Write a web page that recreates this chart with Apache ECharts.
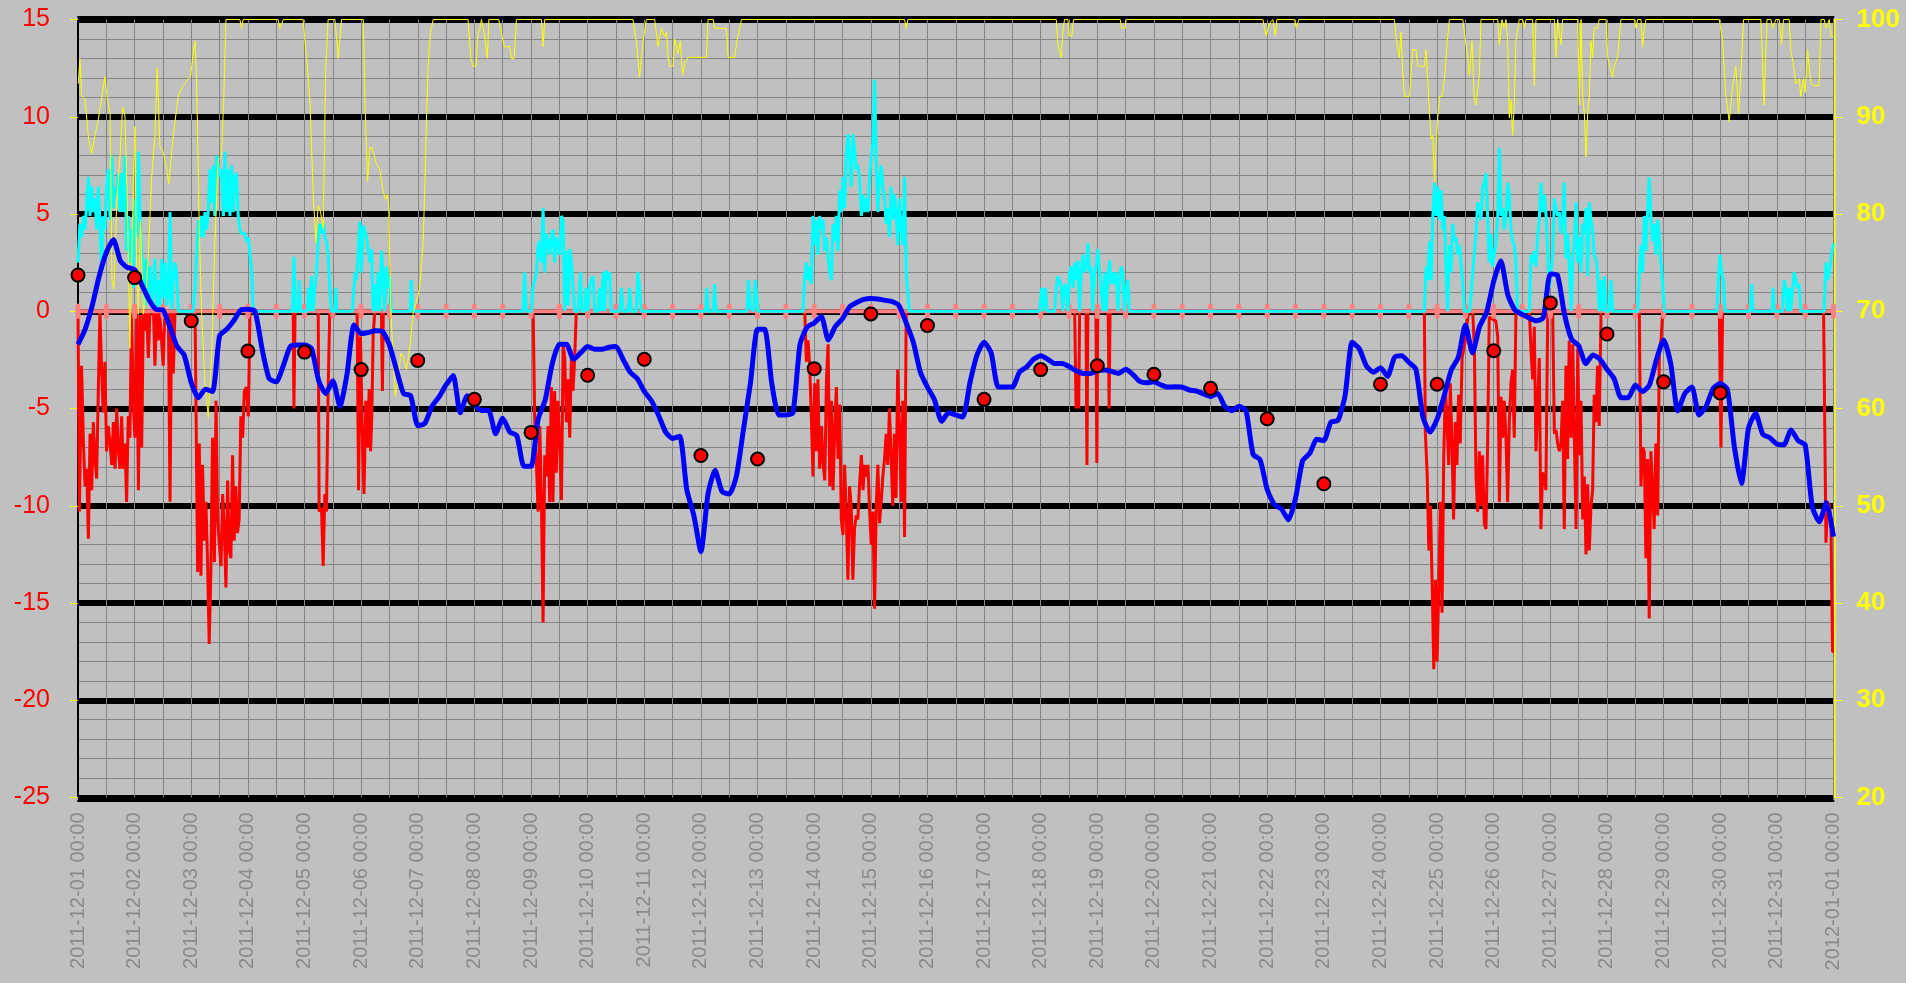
<!DOCTYPE html>
<html>
<head>
<meta charset="utf-8">
<script src="https://cdn.jsdelivr.net/npm/echarts@6/dist/echarts.min.js"></script>
<style>
  html, body { margin: 0; padding: 0; background: #ffffff; }
  #chart { width: 1906px; height: 983px; background: #c0c0c0; }
</style>
</head>
<body>
<div id="chart"></div>
<script>
// hours since 2011-12-01 00:00, one month
const hourMin = 0
const hourMax = 744

// thick blue line, one reading every 3 hours
const blueStep = 3
const blueVals = [
  -1.7,-0.93,0.28,1.82,3.02,3.68,2.58,2.25,2.14,1.38,0.61,0.1,0.06,-0.82,-1.81,-2.25,
  -3.68,-4.45,-4.01,-4.12,-1.26,-0.93,-0.49,0.06,0.1,0.0,-1.92,-3.46,-3.63,-2.8,-1.81,-1.74,
  -1.74,-1.92,-3.57,-4.23,-3.57,-4.89,-3.24,-0.71,-1.15,-1.09,-1.0,-1.04,-1.74,-3.02,-4.23,-4.34,
  -5.88,-5.77,-4.89,-4.4,-3.79,-3.3,-5.22,-4.34,-4.8,-5.1,-5.1,-6.3,-5.5,-6.2,-6.4,-7.97,
  -7.97,-5.55,-4.56,-2.69,-1.7,-1.7,-2.47,-2.14,-1.81,-1.96,-1.96,-1.85,-1.81,-2.47,-3.13,-3.46,
  -4.12,-4.6,-5.33,-6.2,-6.54,-6.43,-9.17,-10.5,-12.36,-9.39,-8.18,-9.28,-9.39,-8.5,-6.1,-3.68,
  -0.93,-0.93,-3.68,-5.33,-5.33,-5.22,-1.7,-0.82,-0.6,-0.27,-1.48,-0.78,-0.38,0.23,0.45,0.61,
  0.65,0.63,0.56,0.5,0.28,-0.6,-1.59,-3.13,-3.9,-4.56,-5.66,-5.22,-5.33,-5.44,-3.68,-2.25,
  -1.59,-2.14,-3.9,-3.9,-3.9,-3.13,-2.87,-2.47,-2.29,-2.47,-2.69,-2.69,-2.84,-3.06,-3.2,-3.2,
  -3.06,-3.02,-3.09,-3.2,-2.98,-3.24,-3.61,-3.68,-3.63,-3.79,-3.9,-3.88,-3.9,-4.05,-4.1,-4.25,
  -4.38,-4.23,-4.89,-5.11,-4.89,-5.11,-7.35,-7.64,-9.17,-9.94,-10.16,-10.72,-9.62,-7.68,-7.31,-6.58,
  -6.65,-5.7,-5.61,-4.34,-1.59,-1.92,-2.8,-3.13,-2.91,-3.35,-2.36,-2.29,-2.62,-2.98,-5.44,-6.21,
  -5.55,-4.34,-3.02,-2.36,-0.71,-2.14,-0.78,-0.05,1.55,2.58,0.83,0.06,-0.16,-0.34,-0.49,-0.34,
  1.92,1.86,-0.16,-1.44,-1.77,-2.69,-2.25,-2.47,-2.98,-3.46,-4.45,-4.45,-3.79,-4.12,-3.79,-2.47,
  -1.48,-2.69,-5.11,-4.23,-3.9,-5.33,-4.89,-3.97,-3.72,-4.0,-6.98,-8.85,-5.99,-5.26,-6.32,-6.5,
  -6.83,-6.87,-6.1,-6.65,-6.87,-10.05,-10.82,-9.83,-11.59
]

// red dots, one per day at 00:00
const dailyVals = [
  1.86,1.73,-0.49,-2.05,-2.1,-3.0,-2.53,-4.53,-6.23,-3.29,-2.47,-7.42,-7.6,-2.95,-0.14,
  -0.73,-4.53,-3.0,-2.8,-3.24,-3.96,-5.53,-8.87,-3.75,-3.75,-2.03,0.43,-1.17,-3.63,-4.2
]

// pink reference line at zero, one mark every 12 hours
const zeroStep = 12
const zeroVals = [
  0,0,0,0,0,0,0,0,0,0,0,0,0,0,0,0,0,0,0,0,0,0,0,0,0,0,0,0,0,0,0,0,
  0,0,0,0,0,0,0,0,0,0,0,0,0,0,0,0,0,0,0,0,0,0,0,0,0,0,0,0,0,0,0
]

// red series [hour, value]
const redPts = [
  [0,0],[0.6,-10.3],[1.5,-2.8],[2.3,-6.8],[3,-9],[3.7,-8.1],[4.4,-11.7],[5.1,-6.3],[5.8,-9.2],[6.5,-5.7],
  [7.2,-7.6],[7.9,-8.6],[8.6,-4.1],[9.3,0],[10,-3],[10.7,-5.2],[11.4,-2.6],[12.1,-7.2],[12.8,-5.9],[13.6,-6.8],
  [14.3,-7.9],[15,-5.7],[15.7,-8.1],[16.4,-5],[17.1,-7.1],[17.8,-8.1],[18.5,-5.4],[19.2,-8.1],[19.9,-6.8],[20.6,-9.8],
  [21.3,-5.4],[22,-6.5],[22.7,0],[23.4,-4.6],[24.1,-6.5],[24.9,0],[25.6,-9.2],[26.3,-0.2],[27,-7],[27.7,0],
  [28.4,-1],[29.1,0],[29.8,-2.4],[30.5,0],[32,0],[32.6,-2.8],[33.3,0],[34,-1.5],[34.6,0],[35.4,0],
  [36.1,-2.8],[36.8,0],[38.3,0],[39,-9.8],[39.7,0],[40.4,-3.2],[41.1,0],
  [49.6,0],[50,-4.8],[50.7,-13.4],[51.4,-6.8],[52.1,-13.6],[52.8,-7.9],[53.5,-11.8],[54.2,-9.8],[54.9,-12.9],[55.6,-17.1],
  [56.3,-13.4],[57,-6.5],[57.8,-12.9],[58.5,-4.6],[59.2,-10.7],[59.9,-12],[60.6,-13.1],[61.3,-9.4],[62,-11.2],[62.7,-14.2],
  [63.4,-8.7],[64.1,-12.3],[64.8,-12.7],[65.5,-7.4],[66.2,-11.8],[66.9,-9],[67.6,-11.4],[68.3,-10.7],[69,-5.4],[69.8,-6.5],
  [70.5,-4.1],[71.4,-3.9],[72.2,-5.4],[72.9,0],
  [91.2,0],[91.5,-5],[92,0],[101.8,0],[102.2,-10.3],[103.2,-10.1],[103.9,-13.1],[104.6,-9.4],[105.3,-10.3],[106,-4.1],[106.7,0],
  [118.3,0],[118.9,-9.2],[119.7,-1.3],[120.6,-6.8],[121.2,-9.4],[122,-4.6],[122.7,-7],[123.4,-4],[124,-7.2],[124.5,-5.5],
  [125.1,-1.2],[125.8,0],[128.6,0],[129,-4.1],[129.4,0],
  [192.9,0],[193.6,-5.9],[194.3,-7.9],[195,-10.3],[195.7,-5.9],[196.4,-9.7],[197.1,-16],[197.8,-7.4],[198.5,-8.5],[199.2,-5.9],
  [199.9,-9.8],[200.6,-3.9],[201.3,-9.8],[202,-4.1],[202.7,-8.3],[203.4,-4.6],[204.2,-6.8],[204.9,-9.7],[205.6,-1.7],[206.3,-2.4],
  [207,-5.7],[207.7,-3.5],[208.4,-6.5],[209.1,-2.4],[209.8,-4.1],[210.5,-2.4],[211.2,0],
  [308,0],[308.7,-2.6],[309.4,-1.5],[310.1,-2.8],[310.8,-5.4],[311.5,-8.5],[312.2,-3.7],[312.9,-7.2],[313.6,-3.5],[314.3,-8.1],
  [315.1,-5.9],[315.8,-7.9],[316.5,-8.7],[317.2,-3.5],[317.9,-1.7],[318.6,-9],[319.3,-4.6],[320,-9.2],[320.7,-6.1],[321.4,-3.9],
  [322.1,-7.6],[322.8,-4.8],[323.5,-10.7],[324.2,-11.5],[324.9,-7.9],[325.6,-10.5],[326.3,-13.8],[327,-9],[327.7,-10],[328.4,-13.8],
  [329.1,-11.2],[329.8,-10.5],[330.5,-10.7],[331.2,-9],[332,-7.4],[332.7,-9.2],[333.4,-7.9],[334.1,-8.5],[334.8,-7.9],[335.5,-10.3],
  [336.2,-12],[336.9,-10.3],[337.6,-15.3],[338.3,-10],[339,-7.9],[339.7,-10.9],[340.4,-9.8],[341.1,-8.5],[341.8,-7.6],[342.5,-6.3],
  [343.2,-7.9],[343.9,-5],[344.6,-7.4],[345.3,-10],[346,-6.3],[346.7,-9.6],[347.4,-3],[348.1,-5.7],[348.9,-9.8],[349.6,-4.6],
  [350.3,-11.6],[351,0],
  [422.4,0],[423,-5],[423.5,-3.3],[424.1,-5],[424.5,0],[427.2,0],[427.6,-7.9],[428,0],[431.4,0],[431.8,-7.8],[432.2,0],
  [436.6,0],[437,-5],[437.4,0],
  [570.6,0],[571,-6.2],[571.8,-8.4],[572.5,-12.3],[573.2,-10],[573.9,-14],[574.6,-18.4],[575.3,-13.8],[576,-18],[576.7,-14.2],
  [577.4,-9.8],[578.1,-15.5],[578.8,-7.6],[579.5,-3.9],[580.2,-5.7],[580.9,-7.9],[581.6,-3.7],[582.3,-6.8],[583,-10.7],[583.7,-5.7],
  [584.4,-7.9],[585.1,-4.3],[585.8,-6.8],[586.6,-2.4],[587.3,-1.9],[588,-1.5],[588.7,-0.6],[589.4,0],[591.1,0],[591.8,-1.9],
  [592.5,-8.5],[593.2,-10.3],[593.9,-7.2],[594.6,-10],[595.3,-7.4],[596,-10.9],[596.7,-11.2],[597.4,-7],[598.1,-0.3],[600.9,-0.5],
  [601.7,-1.3],[602.4,-9.8],[603.1,-4.4],[603.8,-6.5],[604.5,-4.6],[605.2,-6.5],[605.9,-9.8],[606.6,-5.7],[607.3,-3.7],[608,-3],
  [608.7,-6.5],[609.4,-0.2],[610.1,0],[615.1,0],[615.8,-2],[616.5,-3.5],[617.2,-0.8],[617.9,-7.2],[618.6,-7.2],[619.3,-2.4],
  [620,-11.2],[620.7,-8.3],[621.4,-8.5],[622.1,-9.2],[622.9,0],[623.6,-0.2],[624.3,0],[625,-0.2],[625.7,-6.3],[626.4,-6.1],
  [627.1,-6.8],[627.8,-7.2],[628.5,-6.8],[629.2,-4.6],[629.9,-11.2],[630.6,-2.8],[631.3,-7.6],[632,-1.5],[632.8,-6.5],[633.5,-1.7],
  [634.2,-6.8],[634.9,-11.2],[635.6,-1.9],[636.3,-7.4],[637,-4.6],[637.7,-10.7],[638.4,-8.5],[639.1,-12.5],[639.8,-8.9],[640.5,-12.3],
  [641.2,-10.1],[641.9,-9.2],[642.6,-4.3],[643.3,-5.7],[644,-2.8],[644.7,-5.9],[645.5,0],
  [661.7,0],[662.4,-9],[663.1,-7],[663.8,-7.2],[664.5,-12.7],[665.2,-7.6],[665.9,-15.8],[666.6,-7.2],[667.3,-9],[668,-11.2],
  [668.7,-6.8],[669.5,-10.5],[670.2,-1.9],[670.9,-1.5],[671.6,0],
  [695.6,0],[696.3,-7],[697,0],
  [739.8,0],[740.8,-11.9],[741.5,-9.8],[742.2,-10],[742.9,-10.7],[743.6,-17.5],[744,-17.5]
]

// cyan series [hour, value]
const cyanPts = [
  [0,2.5],[0.8,4.5],[1.6,3.8],[2.3,4.9],[3,4.2],[3.7,5.6],[4.4,6.9],[5.1,4.9],[5.8,6.4],[6.5,5.1],
  [7.2,5.8],[7.9,4.2],[8.6,6.4],[9.3,4.7],[10,2],[10.7,4.9],[11.4,4.2],[12.1,6.4],[12.8,7.3],[13.6,4.7],
  [14.3,8],[15,5.3],[15.7,6.4],[16.4,6],[17.1,7.1],[17.8,5.1],[18.5,7.1],[19.2,5.1],[19.9,8],[20.6,3.1],
  [21.3,4.9],[22,2.5],[22.7,4.2],[23.4,1.2],[24.1,5.8],[24.8,3.8],[25.6,8.2],[26.3,4.9],[27,2.9],[27.7,2.5],
  [28.4,0.3],[29.1,2.7],[29.8,0.9],[30.5,2.3],[31.2,0.3],[31.9,1.2],[32.6,2.7],[33.3,0.1],[34,1.6],[34.7,0.3],
  [35.4,2.7],[36.1,0.7],[36.9,2.5],[37.6,0.3],[38.3,0.7],[39,5.1],[39.7,0.1],[40.4,1.6],[41.1,2.5],[41.8,2],[42.5,0],
  [48.8,0],[49.6,1.2],[50.3,2.9],[51,4.7],[51.7,3.8],[52.4,4.9],[53.1,3.8],[53.8,5.1],[54.5,4.2],[55.2,5.1],
  [55.9,7.3],[56.6,5.6],[57.3,7.5],[58,4.9],[58.7,8],[59.4,7.5],[60.1,6.9],[60.8,7.3],[61.6,4.9],[62.3,8.2],
  [63,5.1],[63.7,7.3],[64.4,4.9],[65.1,7.5],[65.8,5.1],[66.5,6.9],[67.2,7.1],[67.9,4.9],[68.6,4.2],[69.3,4],
  [70,4.1],[70.7,4],[71.4,3.6],[72.2,3.8],[72.9,2.9],[73.6,2],[74.3,0],
  [90.9,0],[91.5,2.8],[92.1,0],[93.3,0],[93.7,1.6],[94.3,0],[97.1,0],[97.7,1.2],[98.3,0],[99,1.8],
  [99.7,0],[100.4,1.2],[101.1,2],[101.8,3.6],[102.5,4.5],[103.2,4],[103.9,4.5],[104.6,3.8],[105.3,3.6],[106,2.9],
  [106.7,1.2],[107.4,0],[108.9,0],[109.3,1.2],[109.7,0],
  [116.3,0],[116.9,1.1],[117.5,2],[118,1.6],[118.7,2.9],[119.4,4.6],[120.1,2],[120.9,4.4],[122.3,3.8],[123,3.1],
  [123.7,2.5],[124.4,3.2],[125.1,0],[125.8,1.4],[126.5,0],[127.2,2],[127.9,0],[128.6,3.1],[129.3,2],[130,0],
  [130.7,2.3],[131.4,1.2],[132.1,1.8],[132.8,0],[140.8,0],[141.2,1.6],[141.8,0],
  [188.6,0],[189.3,2],[190,0],[192.1,0],[192.8,1.2],[193.6,1.2],[194.3,2],[195,3.4],[195.7,3.6],[196.4,2.5],
  [197.1,5.3],[197.8,2],[198.5,4],[199.2,3.6],[199.9,2.9],[200.6,3.8],[201.3,4.2],[202,2.5],[202.7,3.8],[203.4,3.4],
  [204.2,2.9],[204.9,4.9],[205.6,4.7],[206.3,0],[207,3.1],[207.7,0.3],[208.4,3.2],[209.1,2.5],[209.8,2.5],[210.5,0],
  [211.9,0],[213,2],[213.6,0],[214.7,0],[215.4,1.2],[216.1,0],[216.8,1.2],[217.5,1.6],[218.3,1.8],[219,0],
  [220.4,0],[221.1,1.2],[221.8,0],[222.5,2],[223.2,0],[223.9,2.1],[224.6,1.6],[225.3,2],[226,0],[229.6,0],
  [230.3,1.2],[231,0],[233.1,0],[233.8,1.2],[234.5,0],[236.6,0],[237.3,2],[238,1.2],[238.7,0],
  [265.9,0],[266.5,1.2],[267,0],[269.2,0],[269.8,1.4],[270.3,0],[283.6,0],[284.1,1.6],[285,0.2],[286.4,0],
  [287,1.6],[287.5,1.6],[288.2,0],
  [307.3,0],[308,1.8],[308.7,2.5],[309.4,1.6],[310.1,2.3],[310.8,1.4],[311.5,4.9],[312.2,3.4],[312.9,4.7],[313.6,2.9],
  [314.3,4.9],[315.1,4.2],[315.8,4.7],[316.5,3.1],[317.2,3.8],[317.9,2.7],[318.6,2],[319.3,1.6],[320,4.5],[320.7,3.6],
  [321.4,4.9],[322.1,3.1],[322.8,6.2],[323.5,5.1],[324.2,6.9],[324.9,5.3],[325.6,8],[326.3,9.1],[327,8],[327.7,6.4],
  [328.4,9.1],[329.1,8.4],[329.8,7.3],[330.5,7.5],[331.2,6.9],[332,4.9],[332.7,6],[333.4,5.1],[334.1,5.8],[334.8,5.1],
  [335.5,6.9],[336.2,8],[336.9,8.6],[337.6,11.9],[338.3,7.8],[339,5.1],[339.7,6.9],[340.4,7.5],[341.1,6.4],[341.8,5.8],
  [342.5,4.5],[343.2,5.3],[343.9,3.8],[344.6,6.4],[345.3,4.7],[346,6],[346.7,5.1],[347.4,3.4],[348.1,5.8],[348.9,4.2],
  [349.6,3.4],[350.3,6.9],[351,2],[351.7,0.9],[352.4,0],
  [407.5,0],[408.5,1.2],[409.1,0],[409.9,1.2],[410.8,0],[413.9,0],[414.6,1.2],[415.3,1.8],[416,1.6],[416.7,1.2],
  [417.4,0],[418.1,1.4],[418.8,1.2],[419.5,0],[420.2,2],[420.9,2.3],[421.7,1.2],[422.4,2.5],[423.1,1.6],[423.8,2.6],
  [424.5,0],[425.2,2],[425.9,2.9],[426.6,2],[427.3,2.3],[428,3.5],[428.7,2],[429.4,2.3],[430.1,0],[430.8,2],
  [431.5,2.3],[432.2,3.2],[432.9,2],[433.6,1.2],[434.4,0],[435.1,2],[435.8,0],[436.5,1.8],[437.2,2.6],[437.9,1.4],
  [438.6,2],[439.3,1.4],[440,2],[440.7,0],[441.4,1.6],[442.1,2.3],[442.8,2],[443.5,0],[444.2,1.2],[444.9,1.6],[445.6,0],
  [570.6,0],[571.3,2.3],[572,1.6],[572.8,3.6],[573.5,1.6],[574.2,4.9],[574.9,6.6],[575.6,4.9],[576.3,6.4],[577,4.7],
  [577.7,6.2],[578.4,4.2],[579.1,4.9],[579.8,2],[580.5,0],[581.2,3.4],[581.9,2],[582.6,4.5],[583.3,3.6],[584,3.8],
  [584.8,2.9],[585.5,3.4],[586.2,2.3],[586.9,1.4],[587.6,0],[589.7,0],[590.4,0.9],[591.1,2],[591.8,2],[592.5,4],
  [593.2,5.6],[593.9,5.3],[594.6,4.7],[595.3,6.4],[596,6.6],[596.7,7.1],[597.4,4.9],[598.1,2.5],[598.8,4],[599.5,2.3],
  [600.2,2.9],[600.9,3.4],[601.7,4.9],[602.4,8.4],[603.1,4.9],[603.8,5.3],[604.5,4.2],[605.2,4.9],[605.9,6.6],[606.6,6],
  [607.3,4.2],[608,3.6],[608.7,3.4],[609.4,2.5],[610.1,0],[615.1,0],[615.8,2.9],[616.5,2.5],[617.2,3.1],[617.9,2.3],
  [618.6,3.8],[619.3,4.7],[620,6.6],[620.7,5.1],[621.4,6],[622.2,4.9],[622.9,2.9],[623.6,1.2],[624.3,2],[625,2.9],
  [625.7,5.8],[626.4,5.3],[627.1,4.9],[627.8,5.1],[628.5,4],[629.2,4.7],[629.9,6.6],[630.6,2.7],[631.3,4],[632,2.5],
  [632.8,0],[633.5,2.7],[634.2,3.6],[634.9,5.6],[635.6,2.5],[636.3,3.8],[637,2],[637.7,4.5],[638.4,4],[639.1,5.3],
  [639.8,1.8],[640.5,5.6],[641.2,4.7],[641.9,4.2],[642.6,2.9],[643.3,2.7],[644,2],[644.7,0],[645.5,1.6],[646.2,0],
  [646.9,1.8],[647.6,0],[649,0],[649.7,1.6],[650.4,0],
  [661,0],[661.7,2],[662.4,3.4],[663.1,2],[663.8,4.9],[664.5,3.1],[665.2,5.1],[665.9,6.9],[666.6,4.9],[667.3,3.6],
  [668,4.5],[668.7,2.9],[669.5,4.7],[670.2,3.8],[670.9,2.5],[671.6,1.4],[672.3,0],
  [694.6,0],[695.2,1.6],[695.9,2.9],[696.6,2],[697.3,1.6],[698,0],[708.7,0],[709.3,1.4],[709.8,0],[718,0],
  [718.4,1.2],[718.9,0],[722.4,0],[723.1,1.6],[723.8,1.2],[724.5,0],[725.2,1.2],[725.9,0],[727.3,2],[728,1.6],
  [728.7,1.2],[729.4,1.4],[730.1,0],[740,0],[740.8,2.5],[741.5,1.6],[742.2,2],[742.9,2.7],[744,3.5]
]

// yellow series on the right axis [hour, value]
const yellowPts = [
  [0.1,93.4],[0.8,96],[1.6,92.1],[3,91.8],[4.4,87.9],[5.8,86.2],[7.2,88.1],[8.6,89.7],[10,91.9],[11.4,94.1],
  [12.4,91.9],[13.6,90.3],[14.4,73.2],[15.2,72.3],[16.4,81.1],[17.8,85.9],[18.9,91],[19.9,90.1],[20.9,81.5],[22,66.2],
  [23.2,80.2],[24.1,89],[24.8,75],[25.6,69.7],[26.5,79.3],[27.7,69.7],[29.1,72.8],[30.2,78],[31.2,83.7],[32.6,88.1],
  [33.6,95],[34.7,86.9],[36.1,86.4],[37.6,84.6],[38.5,83.1],[39.7,86.4],[41.1,89.5],[42.5,92.1],[43.9,93],[45.3,93.4],
  [46.7,93.9],[47.7,94.1],[48.8,96.5],[49.6,97.8],[50.3,93.4],[51.4,78.5],[52.4,69.7],[53.8,62.6],[55.2,59.1],[56.6,65.3],
  [58,77.1],[59.4,85.5],[60.8,85.9],[61.8,92.1],[62.7,100],[68.6,100],[69.3,99.1],[70,100],[84.8,100],[85.6,99.1],
  [87,100],[95.4,100],[96.9,96],[98.3,91.7],[99.7,82],[100.8,77.1],[101.8,80.9],[102.8,80.2],[103.9,78.5],[105,95.2],
  [106,100],[108.9,100],[110.3,96],[111.7,100],[120.9,100],[121.6,91.7],[122.7,83.3],[123.7,86.8],[124.7,86.8],[125.5,86.8],
  [126.5,85.1],[127.9,84.6],[129.3,82.4],[130.3,81.5],[131.2,82],[131.7,80.7],[132.6,69.7],[133.6,65.3],[134.5,61.3],[135.7,63.1],
  [136.8,65.7],[137.8,65.3],[139.2,64],[140.6,66.2],[142,69.7],[143.4,71],[144.8,72.3],[146.3,77.2],[147,82.9],[147.7,89.9],
  [148.4,95.2],[149.4,98.7],[150.5,100],[165.3,100],[166.5,96],[167.4,95.2],[168.6,95.2],[169.6,98.7],[170.3,99.1],[171,100],
  [172.4,98.2],[173.5,96],[174.1,100],[178.3,100],[179.4,98.7],[180.6,97.2],[183,97.2],[183.7,96],[184.8,96],[185.8,100],
  [196.4,100],[197.1,97.2],[197.8,100],[235.2,100],[236.6,97.8],[238,94.1],[239.5,97.8],[240.9,100],[244.4,100],[245.8,97.2],
  [247.2,99.1],[248.6,98.2],[249.4,98.7],[250.1,96.1],[250.8,95.2],[252.2,95.2],[252.9,98],[254.3,96.5],[255.3,97.8],[256.2,94.3],
  [257.2,95.6],[258.6,96.1],[266.3,96.1],[267,100],[269.2,100],[269.9,99.1],[274.8,99.1],[275.5,96.1],[278.3,96.1],[279.3,97.8],
  [281.2,100],[350.3,100],[351,99.1],[351.7,100],[414.6,100],[415.3,97.4],[416.7,96.1],[417.4,98.7],[418.1,100],[419.5,100],
  [420.2,98.3],[421.2,98.3],[421.9,100],[441.7,100],[442.4,99.1],[443.8,99.1],[444.2,100],[502.2,100],[502.9,99.1],[503.6,98.3],
  [504.3,99.1],[505,99.6],[506.4,100],[507.5,98.3],[508.1,100],[515.6,100],[516.3,99.1],[517,99.1],[517.4,100],[557.9,100],
  [558.6,98.3],[560,96.1],[560.7,98.7],[561.4,94.7],[562.2,92.1],[564.3,92.1],[565.7,96.9],[567.1,96.9],[567.8,95.2],[570.6,95.2],
  [571.3,96.9],[572.8,90.3],[573.5,87.7],[574.2,88.1],[574.9,83.3],[575.6,87.3],[576.3,89.9],[577,92.1],[578.2,92.1],[579.1,93.9],
  [580.5,98.3],[581.2,100],[586.9,100],[588,97.8],[589,96.1],[589.7,94.3],[590.8,97.8],[591.8,91.7],[592.5,91.2],[593.9,94.3],
  [594.6,100],[601.7,100],[602.4,97.4],[603.5,100],[604.5,99.1],[605.2,100],[605.9,97.8],[606.6,89.9],[607.3,91.7],[608,88.1],
  [608.7,91.2],[609.4,97.8],[610.8,100],[612.3,100],[613,99.1],[613.7,100],[616.5,100],[617.2,93.2],[617.9,100],[625.7,100],
  [626.4,96.1],[627.1,100],[627.8,100],[628.5,97.4],[629.2,100],[635.6,100],[636.3,91.2],[637,100],[637.7,92.1],[638.4,90.3],
  [639.1,85.9],[639.8,90.3],[640.5,92.1],[641.2,97.8],[641.9,96.1],[642.6,99.1],[644,99.1],[644.7,100],[647.6,100],[648.3,96.1],
  [649.7,94.7],[650.4,94.1],[651.1,95.2],[652.5,96.1],[653.9,100],[659.6,100],[660.3,99.1],[661,100],[662.4,100],[663.1,97.2],
  [663.8,99.1],[664.5,100],[695.6,100],[697,97.8],[698.4,92.1],[699.8,89.5],[701.2,93],[702.6,95.2],[703.8,90.3],[704.8,94.7],
  [705.9,100],[713.2,100],[713.9,96.1],[714.6,91.2],[715.8,100],[717.5,100],[718.2,99.1],[719.6,100],[721,100],[722,97.4],
  [722.8,100],[725.2,100],[725.9,96.9],[727.1,95.2],[728,93.4],[729.5,93.9],[730.1,92.1],[731.3,93.9],[732,92.5],[733,96.9],
  [734.4,93.4],[735.8,93.2],[737.9,93.2],[738.7,100],[740.1,100],[740.8,99.1],[742.2,100],[742.9,98.3],[744,98.3]
]

const START = Date.UTC(2011, 11, 1)
function hourLabel(h) {
  const d = new Date(START + h * 3600000)
  const p = n => String(n).padStart(2, '0')
  return d.getUTCFullYear() + '-' + p(d.getUTCMonth() + 1) + '-' + p(d.getUTCDate()) +
    ' ' + p(d.getUTCHours()) + ':' + p(d.getUTCMinutes())
}

const FONT = 'Liberation Sans, Arial, sans-serif'
const GRID_GRAY = '#858585'

const chart = echarts.init(document.getElementById('chart'), null, { renderer: 'canvas' })

const option = {
  animation: false,
  backgroundColor: '#c0c0c0',
  grid: { left: 78, top: 19.5, right: 72.5, bottom: 185.5, containLabel: false },
  xAxis: [
    {
      type: 'value',
      min: hourMin,
      max: hourMax,
      interval: 24,
      offset: 3,
      axisLine: { show: true, onZero: false, lineStyle: { color: '#000', width: 2 } },
      axisTick: { show: false },
      axisLabel: {
        rotate: 90,
        margin: 12,
        color: '#8a8a8a',
        fontSize: 20,
        fontFamily: FONT,
        showMinLabel: true,
        showMaxLabel: true,
        formatter: hourLabel
      },
      splitLine: { show: true, lineStyle: { color: GRID_GRAY, width: 1 } },
      minorTick: { show: false, splitNumber: 2 },
      minorSplitLine: { show: true, lineStyle: { color: GRID_GRAY, width: 1 } }
    },
    {
      type: 'value',
      position: 'top',
      min: hourMin,
      max: hourMax,
      offset: 3,
      axisLine: { show: true, onZero: false, lineStyle: { color: '#000', width: 2 } },
      axisTick: { show: false },
      axisLabel: { show: false },
      splitLine: { show: false }
    }
  ],
  yAxis: [
    {
      type: 'value',
      min: -25,
      max: 15,
      interval: 5,
      position: 'left',
      axisLine: { show: true, onZero: false, lineStyle: { color: '#000', width: 2 } },
      axisTick: { show: true, length: 8, lineStyle: { color: '#000' } },
      axisLabel: { color: '#ff0000', fontSize: 25, fontFamily: FONT, margin: 28 },
      splitLine: { show: true, lineStyle: { color: '#000', width: 6 } },
      minorTick: { show: false, splitNumber: 5 },
      minorSplitLine: { show: true, lineStyle: { color: GRID_GRAY, width: 1 } }
    },
    {
      type: 'value',
      min: 20,
      max: 100,
      interval: 10,
      position: 'right',
      offset: 1,
      axisLine: { show: true, onZero: false, lineStyle: { color: '#ffff00', width: 1.5 } },
      axisTick: { show: true, length: 8, lineStyle: { color: '#ffff00' } },
      axisLabel: { color: '#ffff00', fontSize: 26, fontWeight: 'bold', fontFamily: FONT, margin: 22 },
      splitLine: { show: false }
    },
    {
      // inner half of the right-hand ticks
      type: 'value',
      min: 20,
      max: 100,
      interval: 10,
      position: 'right',
      offset: 1,
      axisLine: { show: false },
      axisTick: { show: true, inside: true, length: 8, lineStyle: { color: '#ffff00' } },
      axisLabel: { show: false },
      splitLine: { show: false }
    }
  ],
  series: [
    {
      name: 'red',
      type: 'line',
      yAxisIndex: 0,
      data: redPts,
      showSymbol: false,
      lineStyle: { color: '#ff0000', width: 3 },
      z: 1
    },
    {
      name: 'zero',
      type: 'line',
      yAxisIndex: 0,
      data: zeroVals.map((v, i) => [i * zeroStep, v]),
      symbol: 'roundRect',
      symbolSize: [5, 15],
      itemStyle: { color: '#ff8080' },
      lineStyle: { color: '#ff8080', width: 4 },
      z: 2
    },
    {
      name: 'cyan',
      type: 'line',
      yAxisIndex: 0,
      data: cyanPts,
      showSymbol: false,
      lineStyle: { color: '#00ffff', width: 3 },
      z: 3
    },
    {
      name: 'yellow',
      type: 'line',
      yAxisIndex: 1,
      data: yellowPts,
      showSymbol: false,
      lineStyle: { color: '#ffff00', width: 1 },
      z: 4
    },
    {
      name: 'blue',
      type: 'line',
      yAxisIndex: 0,
      data: blueVals.map((v, i) => [i * blueStep, v]),
      showSymbol: false,
      smooth: 0.2,
      lineStyle: { color: '#0000ff', width: 5 },
      z: 5
    },
    {
      name: 'daily',
      type: 'scatter',
      yAxisIndex: 0,
      data: dailyVals.map((v, i) => [i * 24, v]),
      symbolSize: 13,
      itemStyle: { color: '#ff0000', borderColor: '#000', borderWidth: 2, opacity: 1 },
      z: 6
    }
  ]
}

chart.setOption(option)
</script>
</body>
</html>
